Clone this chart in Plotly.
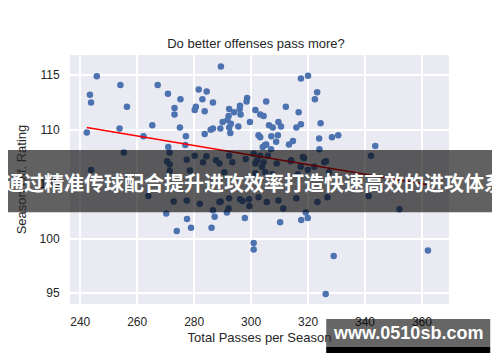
import numpy as np
import plotly.graph_objects as go

# Total passes per season (x) and season offensive rating (y)
passes = [
    245.8, 243.4, 243.8, 242.3, 254.1, 256.4, 253.8, 265.3, 262.2, 267.2,
    270.8, 275.2, 273.1, 273.1, 275.0, 277.1, 276.9, 270.9, 255.3, 243.8,
    271.4, 270.5, 271.4, 271.4, 263.9, 272.8, 270.2, 273.9, 277.5, 278.9,
    287.2, 286.1, 291.5, 292.1, 289.3, 297.8, 296.1, 297.0, 299.4, 299.3,
    300.9, 300.9, 310.2, 317.6, 319.9, 319.2, 329.0, 326.2, 362.1, 352.1,
    341.3, 343.6, 342.1, 328.4, 330.6, 327.4,
    317.5, 320.0, 323.2, 322.4, 324.4, 324.0, 326.3, 316.7, 312.2, 305.3,
    301.5, 303.2, 304.4, 306.3, 307.6, 309.6, 310.5, 315.9, 317.5, 303.2,
    307.1, 309.4, 308.8, 313.3, 314.7, 305.3, 304.1, 307.0, 303.2, 305.9,
    313.9, 318.6, 317.4, 319.9, 301.5, 303.8, 305.0, 307.5, 316.4,
    289.4, 281.6, 284.4, 282.9, 286.6, 280.6, 280.2, 283.7, 298.6, 298.4,
    296.1, 296.0, 292.3, 294.0, 296.3, 292.1, 291.7, 299.6, 290.0, 292.9,
    295.5, 292.3, 286.6, 285.8, 289.2, 283.7, 292.7,
    277.4, 280.2, 283.1, 284.3, 287.7, 288.9, 292.3, 293.4, 298.1, 300.9,
    302.1, 277.4, 282.0, 288.9, 292.3, 286.6, 278.5, 290.6,
    302.6, 304.9, 323.9, 304.4, 309.0, 314.1, 318.2, 322.2, 325.7, 301.5,
    302.6, 305.5, 309.6, 311.3, 315.9, 323.3, 326.8,
]
rating = [
    114.9, 113.2, 112.5, 109.75, 114.1, 112.1, 110.1, 110.4, 109.4, 114.1,
    113.3, 112.8, 112.0, 111.4, 110.2, 109.4, 108.6, 108.4, 107.9, 106.3,
    107.9, 107.1, 106.8, 106.2, 103.9, 103.4, 102.3, 100.7, 101.8, 101.0,
    102.0, 101.0, 102.4, 102.75, 103.4, 101.9, 103.6, 103.45, 103.0, 103.6,
    99.6, 99.0, 101.5, 101.7, 101.9, 102.4, 98.4, 94.9, 98.9, 102.7,
    103.9, 108.5, 107.6, 109.3, 109.5, 106.1,
    114.7, 114.95, 113.45, 112.8, 110.6, 108.2, 107.1, 111.6, 112.1, 112.6,
    111.8, 111.4, 111.25, 110.4, 110.2, 110.7, 110.3, 110.2, 110.5, 109.3,
    109.4, 109.5, 108.9, 108.65, 108.95, 108.65, 108.4, 108.2, 107.6, 107.6,
    107.1, 107.4, 106.6, 106.3, 106.9, 106.6, 106.1, 105.9, 105.9,
    115.8, 113.7, 113.5, 112.8, 112.5, 112.1, 111.8, 111.7, 112.9, 112.6,
    112.2, 111.9, 111.9, 111.6, 111.4, 111.25, 110.9, 110.7, 110.7, 110.55,
    110.3, 110.2, 110.1, 110.0, 110.1, 109.6, 109.7,
    107.25, 107.6, 107.0, 107.55, 107.2, 106.9, 107.6, 107.0, 107.3, 107.8,
    107.2, 103.5, 103.2, 103.35, 103.7, 102.6, 106.25, 106.1,
    109.5, 108.6, 109.2, 107.0, 106.9, 107.2, 107.5, 106.6, 107.0, 106.0,
    103.8, 103.35, 103.5, 102.75, 103.7, 103.35, 103.8,
]

x_ticks = [240, 260, 280, 300, 320, 340, 360]
y_ticks = [95, 100, 105, 110, 115]

title_text = "Do better offenses pass more?"
x_title = "Total Passes per Season"
y_title = "Season Off. Rating"
banner_text = "通过精准传球配合提升进攻效率打造快速高效的进攻体系"
watermark_text = "www.0510sb.com"

# linear regression fit (as seaborn regplot)
xa = np.array(passes)
ya = np.array(rating)
slope, intercept = np.polyfit(xa, ya, 1)
line_x = np.array([xa.min(), xa.max()])
line_y = slope * line_x + intercept

fig = go.Figure()
fig.add_trace(go.Scatter(
    x=passes, y=rating, mode="markers",
    marker=dict(color="#4c72b0", size=6.5, line=dict(width=0)),
    showlegend=False, hoverinfo="skip",
))
fig.add_trace(go.Scatter(
    x=line_x, y=line_y, mode="lines",
    line=dict(color="#ff0000", width=1.6),
    showlegend=False, hoverinfo="skip",
))

font_main = "Liberation Sans, Arial, sans-serif"
fig.update_layout(
    width=500, height=362,
    margin=dict(l=55, r=59, t=47, b=66),
    paper_bgcolor="white",
    plot_bgcolor="#eaeaf2",
    font=dict(family=font_main, color="#262626", size=12),
    title=dict(text=title_text, x=0.496, xanchor="center", y=0.903, yanchor="middle",
               font=dict(size=13, color="#262626")),
    xaxis=dict(range=[236.4, 369.5], tickvals=x_ticks, showgrid=True,
               gridcolor="white", gridwidth=1.5, zeroline=False, showline=False,
               ticks="outside", ticklen=7, tickcolor="rgba(0,0,0,0)",
               tickfont=dict(size=12, color="#262626"),
               title=dict(text=x_title, font=dict(size=13, color="#262626"), standoff=4)),
    yaxis=dict(range=[93.99, 116.86], tickvals=y_ticks,
               showgrid=True, gridcolor="white", gridwidth=1.5, zeroline=False,
               showline=False, ticks="outside", ticklen=7, tickcolor="rgba(0,0,0,0)",
               tickfont=dict(size=12, color="#262626"),
               title=dict(text=y_title, font=dict(size=13, color="#262626"), standoff=10)),
)

# Overlay banner across the chart
fig.add_shape(type="rect", xref="paper", yref="paper",
              x0=-0.2, x1=1.2, y0=0.368, y1=0.6185,
              fillcolor="rgba(0,0,0,0.62)", line=dict(width=0), layer="above")
fig.add_annotation(text="<b>" + banner_text + "</b>", xref="paper", yref="paper",
                   x=0.4845, y=0.486, xanchor="center", yanchor="middle",
                   showarrow=False,
                   font=dict(size=20, color="white",
                             family="Noto Sans CJK SC, Noto Sans CJK JP, sans-serif"))

# Watermark box
fig.add_shape(type="rect", xref="paper", yref="paper",
              x0=0.676, x1=1.1088, y0=-0.1727, y1=-0.0602,
              fillcolor="rgba(0,0,0,0.6)", line=dict(width=0), layer="above")
fig.add_shape(type="rect", xref="paper", yref="paper",
              x0=0.676, x1=1.1088, y0=-0.1968, y1=-0.1727,
              fillcolor="black", line=dict(width=0), layer="above")
fig.add_annotation(text="<b>" + watermark_text + "</b>", xref="paper", yref="paper",
                   x=0.891, y=-0.1165, xanchor="center", yanchor="middle",
                   showarrow=False,
                   font=dict(size=18, color="white", family=font_main))

fig.write_html("out.html")
